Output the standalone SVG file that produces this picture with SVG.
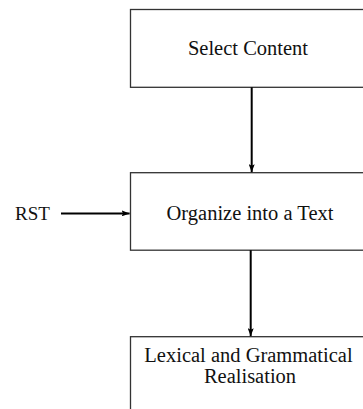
<svg xmlns="http://www.w3.org/2000/svg" width="363" height="409" viewBox="0 0 363 409">
  <style>
    .box { fill: #ffffff; stroke: #333333; stroke-width: 1.3; }
    .label { font-family: "Liberation Serif", "Times New Roman", serif; font-size: 20.5px; fill: #111111; text-anchor: middle; }
    .side { font-family: "Liberation Serif", "Times New Roman", serif; font-size: 19px; fill: #111111; }
    .link { stroke: #000000; stroke-width: 2; fill: none; marker-end: url(#head); }
  </style>
  <defs>
    <marker id="head" viewBox="0 0 8 6" refX="8" refY="3" markerWidth="8" markerHeight="6" markerUnits="userSpaceOnUse" orient="auto">
      <path d="M0,0 L8,3 L0,6 L1.5,3 Z" fill="#000000"/>
    </marker>
  </defs>
  <rect width="363" height="409" fill="#ffffff"/>

  <g id="select-content">
    <rect class="box" x="130.5" y="9.5" width="250" height="77.8"/>
    <text class="label" x="248" y="55">Select Content</text>
  </g>

  <g id="organize-text">
    <rect class="box" x="130.5" y="172.7" width="250" height="77.5"/>
    <text class="label" x="250" y="219.5">Organize into a Text</text>
  </g>

  <g id="realisation">
    <rect class="box" x="130.5" y="336.7" width="250" height="100"/>
    <text class="label" x="248.5" y="361.5">Lexical and Grammatical</text>
    <text class="label" x="250" y="382.5">Realisation</text>
  </g>

  <g id="rst">
    <text class="side" x="15" y="219.5">RST</text>
  </g>

  <g id="connectors">
    <line class="link" x1="251.7" y1="87.3" x2="251.7" y2="172.2"/>
    <line class="link" x1="250.7" y1="250.2" x2="250.7" y2="336.2"/>
    <line class="link" x1="61" y1="213.4" x2="129.6" y2="213.4"/>
  </g>
</svg>
